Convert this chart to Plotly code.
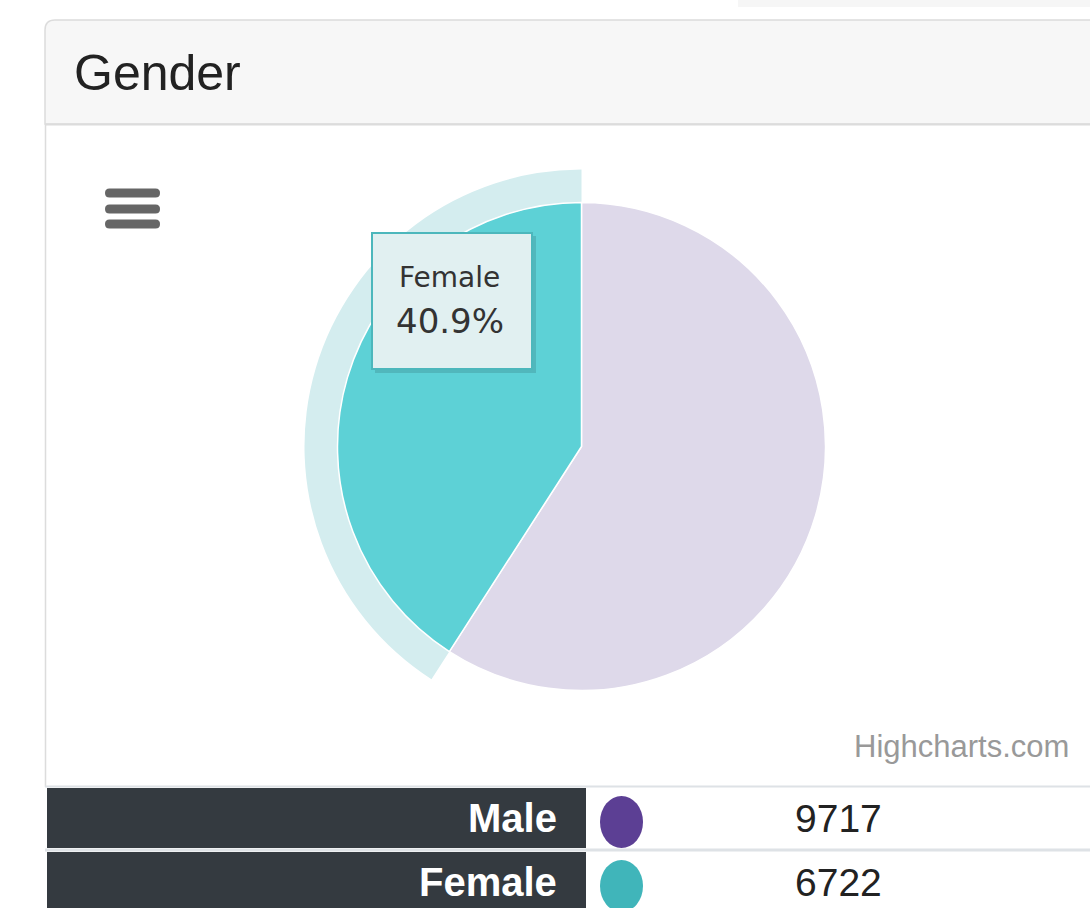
import plotly.graph_objects as go

# ---- data ----
categories = ["Male", "Female"]
values = [9717, 6722]
base_colors = ["#5c3f94", "#40b5ba"]
title_text = "Gender"
credit_text = "Highcharts.com"
hovered = "Female"

W, H = 1090, 908


def px(x):
    return x / W


def py(y):
    return 1 - y / H


total = sum(values)
hi = categories.index(hovered)
pct = values[hi] / total * 100

fig = go.Figure()

# halo (outer ring around hovered slice)
cx, cy, r_in, r_out = 581.5, 446.5, 244, 277
halo_colors = ["rgba(0,0,0,0)" if c != hovered else "#d4edef" for c in categories]
fig.add_trace(go.Pie(
    labels=categories, values=values, sort=False, direction="clockwise", rotation=0,
    hole=r_in / r_out,
    domain=dict(x=[px(cx - r_out), px(cx + r_out)], y=[py(cy + r_out), py(cy - r_out)]),
    marker=dict(colors=halo_colors, line=dict(width=0)),
    textinfo="none", hoverinfo="skip", showlegend=False,
))

# main pie: inactive slices dimmed, hovered slice brightened
slice_colors = ["rgba(92,63,148,0.2)" if c != hovered else "#5dd1d6" for c in categories]
fig.add_trace(go.Pie(
    labels=categories, values=values, sort=False, direction="clockwise", rotation=0,
    domain=dict(x=[px(cx - r_in), px(cx + r_in)], y=[py(cy + r_in), py(cy - r_in)]),
    marker=dict(colors=slice_colors, line=dict(color="white", width=1.5)),
    textinfo="none", hoverinfo="skip", showlegend=False,
))

shapes = []
ann = []


def rect(x0, y0, x1, y1, fill, line=None, lw=0, layer="below"):
    shapes.append(dict(type="rect", xref="paper", yref="paper",
                       x0=px(x0), x1=px(x1), y0=py(y1), y1=py(y0),
                       fillcolor=fill, line=dict(color=line or fill, width=lw), layer=layer))


def pill(x0, y0, x1, y1, fill):
    rr = (y1 - y0) / 2
    p = (f"M {px(x0 + rr)},{py(y0)} L {px(x1 - rr)},{py(y0)} "
         f"Q {px(x1)},{py(y0)} {px(x1)},{py(y0 + rr)} "
         f"Q {px(x1)},{py(y1)} {px(x1 - rr)},{py(y1)} "
         f"L {px(x0 + rr)},{py(y1)} "
         f"Q {px(x0)},{py(y1)} {px(x0)},{py(y0 + rr)} "
         f"Q {px(x0)},{py(y0)} {px(x0 + rr)},{py(y0)} Z")
    shapes.append(dict(type="path", xref="paper", yref="paper", path=p,
                       fillcolor=fill, line=dict(color=fill, width=0), layer="above"))


def hline(x0, x1, y, color, w=1.5, layer="below"):
    shapes.append(dict(type="line", xref="paper", yref="paper",
                       x0=px(x0), x1=px(x1), y0=py(y), y1=py(y),
                       line=dict(color=color, width=w), layer=layer))


# faint blur at top
rect(738, 0, 1090, 7, "#f6f6f6")

# card header with rounded top-left corner
r = 10
path = (f"M {px(45)},{py(124)} L {px(45)},{py(20 + r)} "
        f"Q {px(45)},{py(20)} {px(45 + r)},{py(20)} L {px(1092)},{py(20)} "
        f"L {px(1092)},{py(124)} Z")
shapes.append(dict(type="path", xref="paper", yref="paper", path=path,
                   fillcolor="#f7f7f7", line=dict(color="#dcdcdc", width=1.5), layer="below"))
hline(45, 1092, 124.5, "#dcdcdc", 2)
# left card border
shapes.append(dict(type="line", xref="paper", yref="paper", x0=px(45.5), x1=px(45.5),
                   y0=py(124), y1=py(787), line=dict(color="#dcdcdc", width=1.5), layer="below"))

ann.append(dict(text=title_text, x=px(72), y=py(73), xref="paper", yref="paper",
                xanchor="left", yanchor="middle", showarrow=False,
                font=dict(family="Liberation Sans, Arial", size=50, color="#222222")))

# hamburger menu
for yy in (193, 209, 224):
    pill(105, yy - 4.5, 160, yy + 4.5, "#666666")

# tooltip
rect(375, 236, 536, 373, "rgba(0,0,0,0.12)", layer="above")
rect(372, 233, 532, 369, "#e1f0f1", line="#4cb7bc", lw=2, layer="above")
ann.append(dict(text=hovered, x=px(449), y=py(277), xref="paper", yref="paper",
                xanchor="center", yanchor="middle", showarrow=False,
                font=dict(family="DejaVu Sans", size=28, color="#333333")))
ann.append(dict(text=f"{pct:.1f}%", x=px(450), y=py(321), xref="paper", yref="paper",
                xanchor="center", yanchor="middle", showarrow=False,
                font=dict(family="DejaVu Sans", size=34, color="#333333")))

# credit
ann.append(dict(text=credit_text, x=px(1071), y=py(746), xref="paper", yref="paper",
                xanchor="right", yanchor="middle", showarrow=False,
                font=dict(family="Liberation Sans, Arial", size=31, color="#999999")))

# table
rows_y = [(788, 848), (852, 912)]
hline(45, 1092, 786.5, "#dee2e6", 2)
hline(45, 1092, 850, "#dee2e6", 3)
for (y0, y1), cat, val, col in zip(rows_y, categories, values, base_colors):
    rect(47, y0, 586, y1, "#343a40")
    ann.append(dict(text=f"<b>{cat}</b>", x=px(559), y=py((y0 + y1) / 2), xref="paper", yref="paper",
                    xanchor="right", yanchor="middle", showarrow=False,
                    font=dict(family="Liberation Sans, Arial", size=40, color="white")))
    shapes.append(dict(type="circle", xref="paper", yref="paper",
                       x0=px(600), x1=px(643), y0=py(y0 + 60), y1=py(y0 + 8),
                       fillcolor=col, line=dict(color=col, width=0), layer="above"))
    ann.append(dict(text=str(val), x=px(793), y=py((y0 + y1) / 2), xref="paper", yref="paper",
                    xanchor="left", yanchor="middle", showarrow=False,
                    font=dict(family="Liberation Sans, Arial", size=39, color="#222222")))

fig.update_layout(
    width=W, height=H, margin=dict(l=0, r=0, t=0, b=0),
    paper_bgcolor="white", plot_bgcolor="white",
    shapes=shapes, annotations=ann, showlegend=False,
)

fig.write_html("out.html", config={"displayModeBar": False},
               post_script="document.body.style.margin='0';document.body.style.overflow='hidden';")
